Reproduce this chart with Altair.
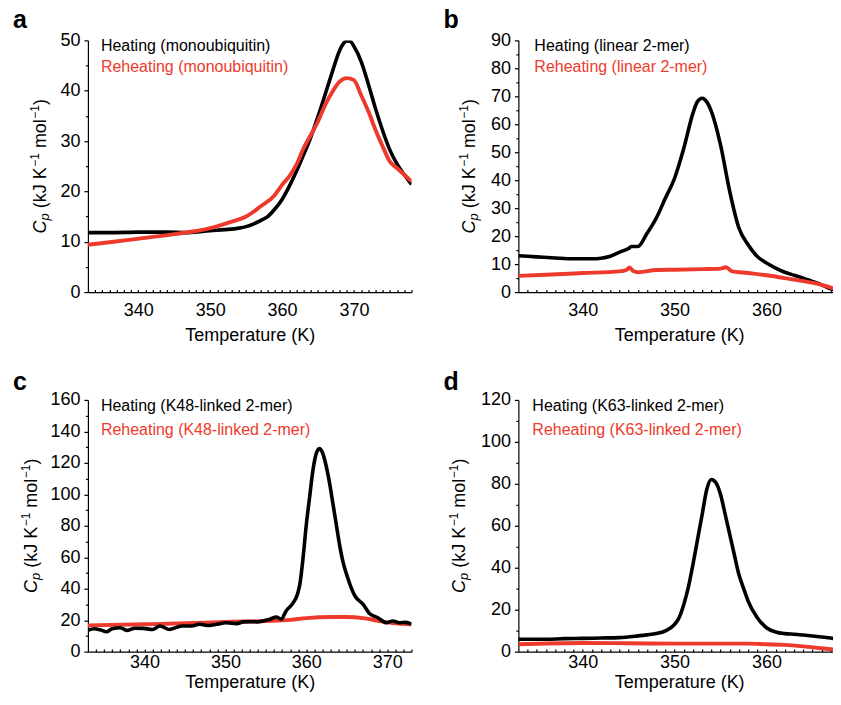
import altair as alt
import pandas as pd

FONT = "Liberation Sans"
RED = "#ee3a2c"
BLACK = "#000000"

# ---------------- data ----------------
# a: monoubiquitin
a_heat_T = [333, 336, 340, 344, 347, 350, 352, 354, 355, 356, 357, 358, 359, 360, 361, 362, 363, 364,
            365, 366, 367, 368, 368.5, 369, 369.5, 370, 371, 372, 373, 374, 375, 376, 377, 378]
a_heat_cp = [11.8, 11.8, 11.9, 11.9, 11.8, 12.2, 12.4, 12.7, 13.0, 13.5, 14.2, 15.0, 16.5, 18.4, 21.0, 24.0,
             27.3, 30.8, 34.9, 39.3, 43.8, 48.0, 49.3, 49.9, 49.8, 48.8, 45.8, 41.3, 36.4, 32.0, 28.2, 25.4,
             23.3, 21.4]
a_reh_T = [333, 336, 340, 345, 350, 353, 355, 357, 359, 360, 361, 362, 363, 364, 365, 366, 367, 368,
           369, 370, 371, 372, 373, 374, 375, 376, 377, 378]
a_reh_cp = [9.4, 9.9, 10.6, 11.5, 12.7, 14.0, 15.0, 17.0, 19.3, 21.3, 23.0, 25.3, 28.6, 31.2, 33.9, 37.2,
            39.8, 41.8, 42.5, 42.1, 39.1, 35.9, 32.2, 28.9, 25.9, 24.6, 23.3, 22.0]

# b: linear 2-mer
b_heat_T = [333, 335, 337, 339, 341, 342, 343, 344, 345, 345.3, 346, 347, 348, 349, 350, 351, 352,
            352.5, 353, 353.5, 354, 355, 356, 357, 358, 359, 360, 361, 362, 363, 364, 365, 366, 367, 368]
b_heat_cp = [13.0, 12.6, 12.2, 11.9, 11.9, 12.1, 12.8, 14.3, 15.6, 16.3, 16.3, 21.0, 26.4, 33.6, 40.7,
             51.4, 64.0, 68.2, 69.3, 68.0, 64.6, 52.6, 36.0, 22.9, 16.9, 12.7, 10.4, 8.6, 7.1, 6.0, 5.0,
             3.8, 2.6, 1.2, 0.3]
b_reh_T = [333, 336, 340, 344, 344.8, 345.1, 345.5, 346, 348, 350, 353, 355, 355.6, 356.2, 358, 360,
           362, 364, 366, 368]
b_reh_cp = [5.8, 6.2, 6.8, 7.4, 8.0, 8.8, 7.5, 7.1, 7.9, 8.0, 8.2, 8.4, 8.9, 7.5, 6.8, 6.0, 5.0, 3.9,
            2.6, 0.5]

# c: K48-linked 2-mer
c_heat_T = [333, 333.8, 334.5, 335.3, 336, 337, 337.8, 338.8, 339.8, 341, 341.9, 343.1, 344, 344.6,
            345.8, 346.8, 348, 348.9, 350.1, 351.4, 352.2, 353, 354, 354.6, 355.5, 356.3, 356.9, 357.5,
            358.3, 358.9, 359.2, 359.6, 360.0, 360.4, 360.8, 361.2, 361.6, 362.0, 362.5, 362.9, 363.3,
            363.7, 364.1, 364.5, 365.1, 366, 367, 367.8, 368.8, 369.9, 370.7, 371.5, 372.3, 373]
c_heat_cp = [13.5, 14.5, 13.9, 12.6, 14.6, 15.2, 13.5, 14.9, 14.8, 14.1, 16.3, 14.1, 15.5, 16.3, 16.3,
             17.4, 16.6, 17.4, 18.4, 17.8, 18.9, 19.1, 18.9, 19.5, 20.6, 22.0, 20.6, 25.9, 30.5, 36.5,
             42.9, 59.8, 80.9, 97.9, 114.8, 125.4, 129.1, 126.4, 116.9, 106.3, 93.6, 80.9, 68.2, 57.7,
             47.1, 35.4, 30.2, 24.3, 21.7, 18.4, 19.5, 18.4, 18.6, 17.4]
c_reh_T = [333, 340, 345, 350, 355, 358, 360, 363, 365, 367, 369, 371, 373]
c_reh_cp = [16.7, 17.4, 18.0, 18.9, 19.5, 20.2, 21.3, 22.0, 22.0, 21.3, 19.5, 18.0, 17.4]

# d: K63-linked 2-mer
d_heat_T = [333, 336, 338, 340, 342, 344, 346, 347, 348, 349, 350, 350.5, 351, 351.5, 352, 352.5, 353,
            353.5, 354, 354.5, 355, 355.5, 356, 356.5, 357, 357.5, 358, 359, 360, 361, 362, 363, 364,
            366, 367, 368]
d_heat_cp = [5.9, 5.9, 6.2, 6.3, 6.5, 6.7, 7.5, 8.0, 8.6, 9.9, 13.0, 16.3, 22.5, 30.8, 41.6, 53.5, 65.4,
             77.3, 82.1, 80.5, 74.9, 65.6, 55.9, 46.2, 36.8, 30.3, 24.1, 16.2, 11.4, 9.4, 8.6, 8.3, 7.9,
             7.0, 6.5, 5.4]
d_reh_T = [333, 340, 345, 350, 355, 358, 360, 362, 364, 366, 368]
d_reh_cp = [3.5, 4.1, 4.0, 3.8, 3.8, 3.8, 3.5, 3.2, 2.5, 1.6, 0.7]

# ---------------- helpers ----------------
CHAR_W = {"C": .722, "p": .556, " ": .278, "(": .333, "k": .5, "J": .5, "K": .667,
          "\u2212": .584, "1": .556, "m": .833, "o": .556, "l": .222, ")": .333}

DUMMY = pd.DataFrame({"v": [0]})
H = 252


def text_mark(txt, x, y, size, color=BLACK, style="normal", weight="normal",
              angle=0, align="left", baseline="middle"):
    return alt.Chart(DUMMY).mark_text(
        text=txt, font=FONT, fontSize=size, fontStyle=style, fontWeight=weight,
        color=color, angle=angle, align=align, baseline=baseline
    ).encode(x=alt.value(x), y=alt.value(y))


def ytitle(xbase):
    # (text, font size, style, baseline shift, gap before)
    gap = 0.278 * 18
    pieces = [("C", 18, "italic", 0, 0), ("p", 13, "italic", 3, 0),
              ("(kJ K", 18, "normal", 0, gap), ("\u22121", 12, "normal", -7, 0.5),
              ("mol", 18, "normal", 0, gap), ("\u22121", 12, "normal", -7, 0.5),
              (")", 18, "normal", 0, 0)]
    widths = [g + sum(CHAR_W[c] for c in t) * s for t, s, _, _, g in pieces]
    total = sum(widths)
    y0 = H / 2 + total / 2
    out = []
    cum = 0
    for (t, s, st, sh, g), w in zip(pieces, widths):
        out.append(text_mark(t, xbase + sh, y0 - cum - g, s, style=st, angle=270,
                             align="left", baseline="alphabetic"))
        cum += w
    return out


def panel(heat_T, heat_cp, reh_T, reh_cp, xdom, ydom, ystep, lstep, width,
          heat_label, reh_label, letter, letter_y, leg_x, leg_y2, ytx,
          black_on_top=False, lab_pad=12, title_pad=7):
    xvals = list(range(xdom[0] + 1, xdom[1] + 1))
    yvals = list(range(ydom[0], ydom[1] + 1, ystep))
    xenc = alt.X("T:Q", scale=alt.Scale(domain=xdom, nice=False, zero=False),
                 axis=alt.Axis(values=xvals, title="Temperature (K)",
                               labelExpr="datum.value % 10 === 0 ? datum.label : ''",
                               tickSize={"expr": "-2.6"}, labelPadding=lab_pad,
                               titlePadding=title_pad,
                               labelOverlap=False, labelFlush=False))
    yenc = alt.Y("Cp:Q", scale=alt.Scale(domain=ydom, nice=False, zero=True),
                 axis=alt.Axis(values=yvals, title=None,
                               labelExpr=f"datum.value % {lstep} === 0 ? datum.label : ''",
                               tickSize={"condition": {"test": f"datum.value % {lstep} === 0",
                                                       "value": 4}, "value": 2.5},
                               labelPadding=4, labelOverlap=False, labelFlush=False))
    heat = alt.Chart(pd.DataFrame({"T": heat_T, "Cp": heat_cp})).mark_line(
        color=BLACK, strokeWidth=3.6, clip=True, strokeJoin="round",
        interpolate="monotone").encode(x=xenc, y=yenc)
    reh = alt.Chart(pd.DataFrame({"T": reh_T, "Cp": reh_cp})).mark_line(
        color=RED, strokeWidth=3.9, clip=True, strokeJoin="round",
        interpolate="monotone").encode(x=xenc, y=yenc)
    lines = [reh, heat] if black_on_top else [heat, reh]
    layers = lines + [
        text_mark(heat_label, leg_x, 6, 16),
        text_mark(reh_label, leg_x, leg_y2, 16, color=RED),
        text_mark(letter, -75, letter_y, 25, weight="bold", baseline="alphabetic"),
    ] + ytitle(ytx)
    return alt.layer(*layers).properties(width=width, height=H)


pa = panel(a_heat_T, a_heat_cp, a_reh_T, a_reh_cp, [333, 378], [0, 50], 5, 10, 324,
           "Heating (monoubiquitin)", "Reheating (monoubiquitin)", "a", -12, 13, 26.7, -42)
pb = panel(b_heat_T, b_heat_cp, b_reh_T, b_reh_cp, [333, 368], [0, 90], 5, 10, 322,
           "Heating (linear 2-mer)", "Reheating (linear 2-mer)", "b", -12, 16, 26.7, -43)
pc = panel(c_heat_T, c_heat_cp, c_reh_T, c_reh_cp, [333, 373], [0, 160], 10, 20, 324,
           "Heating (K48-linked 2-mer)", "Reheating (K48-linked 2-mer)", "c", -10, 13, 30.5, -51,
           black_on_top=True, lab_pad=4.3, title_pad=2)
pd_ = panel(d_heat_T, d_heat_cp, d_reh_T, d_reh_cp, [333, 368], [0, 120], 10, 20, 322,
            "Heating (K63-linked 2-mer)", "Reheating (K63-linked 2-mer)", "d", -10, 14, 30.5, -53,
            lab_pad=4.3, title_pad=2)

# the page is 841 px wide with 8 px body margins: let the right-hand panels run to the
# window edge by cropping the last few pixels of the svg instead of overflowing the page
chart = alt.concat(pa, pb, pc, pd_, columns=2, spacing={"row": 108, "column": 107},
                   bounds="flush").properties(
    padding={"left": 5, "top": 0, "right": -8, "bottom": 0}
).configure_view(stroke=None).configure_axis(
    grid=False, domainColor=BLACK, domainWidth=1.2, tickColor=BLACK, tickWidth=1.2,
    labelFont=FONT, labelFontSize=18, labelColor=BLACK,
    titleFont=FONT, titleFontSize=18, titleFontWeight="normal", titleColor=BLACK
)

chart.save("out.html", embed_options={"renderer": "svg", "actions": False})
